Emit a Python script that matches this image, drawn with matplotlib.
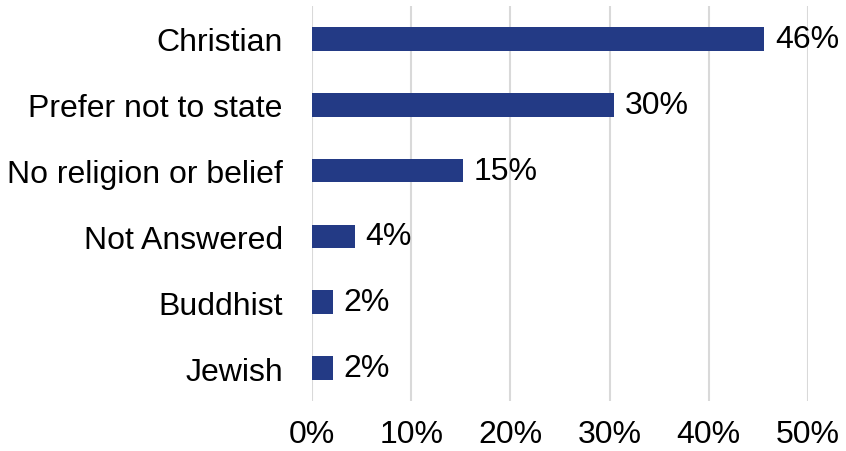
import matplotlib
matplotlib.use("Agg")
import matplotlib.pyplot as plt
from matplotlib.ticker import FuncFormatter

plt.rcParams['font.family'] = ['Liberation Sans', 'DejaVu Sans']

categories = ["Christian", "Prefer not to state", "No religion or belief",
              "Not Answered", "Buddhist", "Jewish"]
shares = [45.6, 30.4, 15.2, 4.3, 2.1, 2.1]
x_ticks = [0, 10, 20, 30, 40, 50]

bar_color = "#233A85"
grid_color = "#D9D9D9"
fs = 23

fig = plt.figure(figsize=(8.46, 4.52), dpi=100)
ax = fig.add_axes([0.3688, 0.1106, 0.9550 - 0.3688, 0.9845 - 0.1106])

ypos = list(range(len(categories)))
bars = ax.barh(ypos, shares, height=0.36, color=bar_color, zorder=3)
for b, v in zip(bars, shares):
    ax.text(b.get_width() + 1.1, b.get_y() + b.get_height() / 2, f"{v:.0f}%",
            va="center", ha="left", fontsize=fs, color="#000000")

ax.set_yticks(ypos)
ax.set_yticklabels(categories, fontsize=fs)
ax.set_ylim(len(categories) - 0.5, -0.5)

ax.set_xlim(0, 50)
ax.set_xticks(x_ticks)
ax.xaxis.set_major_formatter(FuncFormatter(lambda v, p: f"{v:.0f}%"))
ax.tick_params(axis="x", labelsize=fs, length=0, pad=13)
ax.tick_params(axis="y", length=0, pad=21)

ax.grid(axis="x", color=grid_color, linewidth=1.5, zorder=0)
for s in ax.spines.values():
    s.set_visible(False)

fig.savefig("out.png", dpi=100)
